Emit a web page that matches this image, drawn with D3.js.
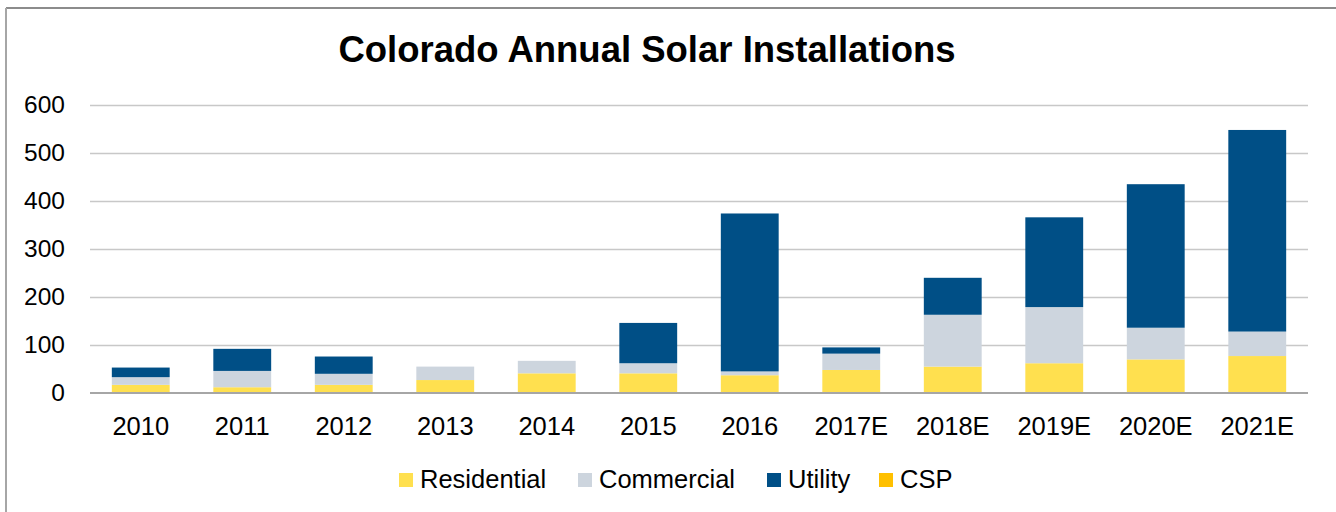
<!DOCTYPE html>
<html>
<head>
<meta charset="utf-8">
<script src="https://cdn.jsdelivr.net/npm/d3@7"></script>
<style>
  html, body { margin: 0; padding: 0; background: #fff; }
  svg { display: block; font-family: "Liberation Sans", Arial, sans-serif; }
</style>
</head>
<body>
<svg id="chart" width="1336" height="512"></svg>
<script>
const years = ['2010', '2011', '2012', '2013', '2014', '2015', '2016', '2017E', '2018E', '2019E', '2020E', '2021E'];
const residential = [17, 12, 17, 27, 41, 41, 37, 48, 55, 62, 70, 77];
const commercial = [16, 34, 23, 28, 26, 21, 8, 34, 108, 117, 66, 51];
const utility = [20, 46, 36, 0, 0, 84, 329, 13, 77, 187, 299, 420];
const csp = [0, 0, 0, 0, 0, 0, 0, 0, 0, 0, 0, 0];
const yTicks = [0, 100, 200, 300, 400, 500, 600];

const seriesNames = ['Residential', 'Commercial', 'Utility', 'CSP'];
const seriesColors = ['#ffe04f', '#cdd5de', '#004f86', '#ffc000'];

const svg = d3.select('#chart');
const width = 1336;
const height = 512;
const margin = { top: 105, right: 28, bottom: 119, left: 90 };
const font = '"Liberation Sans", Arial, sans-serif';

// frame (only top and left edges fall inside the picture)
svg.append('line').attr('x1', 6).attr('x2', width).attr('y1', 8).attr('y2', 8)
  .attr('stroke', '#8c8c8c').attr('stroke-width', 2);
svg.append('line').attr('x1', 6).attr('x2', 6).attr('y1', 8).attr('y2', height)
  .attr('stroke', '#a6a6a6').attr('stroke-width', 2);

svg.append('text')
  .attr('x', 647).attr('y', 62)
  .attr('text-anchor', 'middle')
  .attr('font-size', 36.5).attr('font-weight', 'bold')
  .attr('fill', '#000')
  .text('Colorado Annual Solar Installations');

const rows = years.map((y, i) => ({
  year: y,
  Residential: residential[i],
  Commercial: commercial[i],
  Utility: utility[i],
  CSP: csp[i],
}));

const x = d3.scaleBand().domain(years)
  .range([margin.left, width - margin.right])
  .paddingInner(0.43).paddingOuter(0.215);
const y = d3.scaleLinear().domain([0, 600]).range([height - margin.bottom, margin.top]);

// gridlines
svg.append('g')
  .selectAll('line')
  .data(yTicks.filter((t) => t > 0))
  .join('line')
  .attr('x1', margin.left).attr('x2', width - margin.right)
  .attr('y1', (d) => Math.round(y(d)) + 0.5).attr('y2', (d) => Math.round(y(d)) + 0.5)
  .attr('stroke', '#c8c8c8').attr('stroke-width', 1.5);

const stacked = d3.stack().keys(seriesNames)(rows);

svg.append('g')
  .selectAll('g')
  .data(stacked)
  .join('g')
  .attr('fill', (d, i) => seriesColors[i])
  .selectAll('rect')
  .data((d) => d)
  .join('rect')
  .attr('x', (d) => x(d.data.year))
  .attr('width', x.bandwidth())
  .attr('y', (d) => y(d[1]))
  .attr('height', (d) => Math.max(0, y(d[0]) - y(d[1])));

// baseline
svg.append('line')
  .attr('x1', margin.left).attr('x2', width - margin.right)
  .attr('y1', y(0)).attr('y2', y(0))
  .attr('stroke', '#a6a6a6').attr('stroke-width', 2);

// y axis labels
svg.append('g')
  .attr('transform', `translate(${margin.left},0)`)
  .call(d3.axisLeft(y).tickValues(yTicks).tickSize(0).tickPadding(25))
  .call((g) => g.select('.domain').remove())
  .call((g) => g.selectAll('text')
    .attr('font-size', 24.5).attr('fill', '#000').attr('font-family', font));

// x axis labels
svg.append('g')
  .attr('transform', `translate(0,${y(0)})`)
  .call(d3.axisBottom(x).tickSize(0).tickPadding(24))
  .call((g) => g.select('.domain').remove())
  .call((g) => g.selectAll('text')
    .attr('font-size', 25.5).attr('fill', '#000').attr('font-family', font));

// legend
const legendX = [399, 578, 767, 879];
const legend = svg.append('g')
  .selectAll('g')
  .data(seriesNames)
  .join('g')
  .attr('transform', (d, i) => `translate(${legendX[i]},480)`);
legend.append('rect')
  .attr('x', 0).attr('y', -7).attr('width', 14).attr('height', 14)
  .attr('fill', (d, i) => seriesColors[i]);
legend.append('text')
  .attr('x', 21).attr('y', 8)
  .attr('font-size', 25.5).attr('fill', '#000')
  .text((d) => d);
</script>
</body>
</html>
